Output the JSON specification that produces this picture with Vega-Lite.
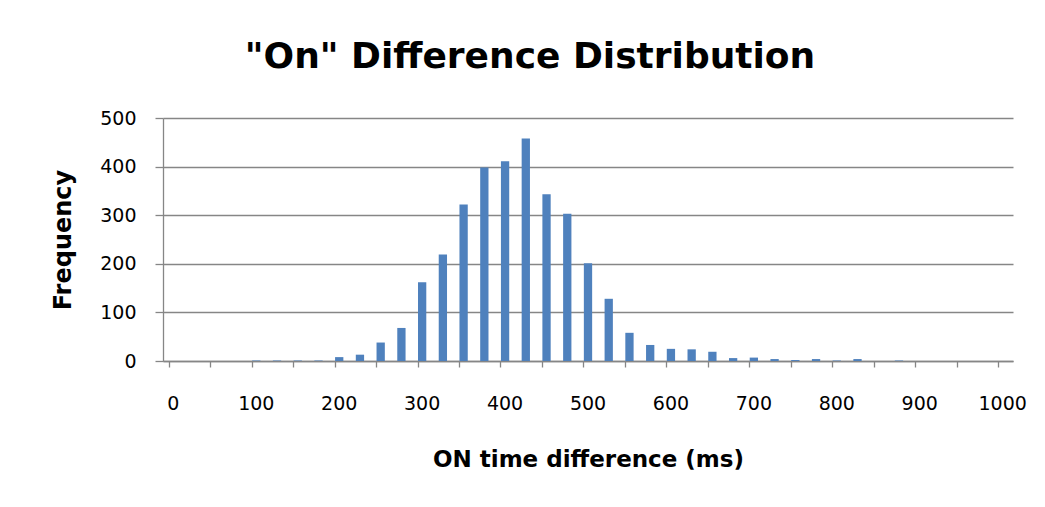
{
  "$schema": "https://vega.github.io/schema/vega-lite/v6.json",
  "width": 850,
  "height": 243,
  "autosize": {"type": "none"},
  "padding": {"left": 163, "top": 118, "right": 32, "bottom": 146},
  "background": "white",
  "title": {
    "text": "\"On\" Difference Distribution",
    "font": "DejaVu Sans",
    "fontSize": 36,
    "fontWeight": "bold",
    "color": "black",
    "anchor": "middle",
    "dx": -58,
    "offset": 33
  },
  "data": {
    "values": [
      {"bin": 0, "count": 0}, {"bin": 25, "count": 0}, {"bin": 50, "count": 0}, {"bin": 75, "count": 0},
      {"bin": 100, "count": 1}, {"bin": 125, "count": 1}, {"bin": 150, "count": 1}, {"bin": 175, "count": 1},
      {"bin": 200, "count": 8}, {"bin": 225, "count": 13}, {"bin": 250, "count": 38}, {"bin": 275, "count": 68},
      {"bin": 300, "count": 162}, {"bin": 325, "count": 219}, {"bin": 350, "count": 322}, {"bin": 375, "count": 398},
      {"bin": 400, "count": 411}, {"bin": 425, "count": 458}, {"bin": 450, "count": 343}, {"bin": 475, "count": 303},
      {"bin": 500, "count": 201}, {"bin": 525, "count": 128}, {"bin": 550, "count": 58}, {"bin": 575, "count": 33},
      {"bin": 600, "count": 25}, {"bin": 625, "count": 24}, {"bin": 650, "count": 19}, {"bin": 675, "count": 6},
      {"bin": 700, "count": 7}, {"bin": 725, "count": 4}, {"bin": 750, "count": 2}, {"bin": 775, "count": 4},
      {"bin": 800, "count": 1}, {"bin": 825, "count": 4}, {"bin": 850, "count": 0}, {"bin": 875, "count": 1},
      {"bin": 900, "count": 0}, {"bin": 925, "count": 0}, {"bin": 950, "count": 0}, {"bin": 975, "count": 0},
      {"bin": 1000, "count": 0}
    ]
  },
  "layer": [
    {
      "mark": {"type": "bar", "color": "#4F81BD"},
      "encoding": {
        "x": {
          "field": "bin",
          "type": "ordinal",
          "scale": {"paddingInner": 0.6, "paddingOuter": 0.3},
          "axis": {
            "orient": "bottom",
            "values": [0, 100, 200, 300, 400, 500, 600, 700, 800, 900, 1000],
            "labelAngle": 0,
            "ticks": false,
            "tickSize": 0,
            "domain": false,
            "labelPadding": 33,
            "labelFont": "DejaVu Sans",
            "labelFontSize": 19,
            "labelColor": "black",
            "title": "ON time difference (ms)",
            "titleFont": "DejaVu Sans",
            "titleFontSize": 23,
            "titleFontWeight": "bold",
            "titleColor": "black",
            "titlePadding": 35
          }
        },
        "y": {
          "field": "count",
          "type": "quantitative",
          "scale": {"domain": [0, 500], "nice": false},
          "axis": {
            "values": [0, 100, 200, 300, 400, 500],
            "grid": true,
            "gridColor": "#868686",
            "gridWidth": 1.3,
            "domainColor": "#868686",
            "domainWidth": 1.3,
            "tickColor": "#868686",
            "tickSize": 8,
            "tickWidth": 1.3,
            "labelPadding": 19,
            "labelFont": "DejaVu Sans",
            "labelFontSize": 19,
            "labelColor": "black",
            "title": "Frequency",
            "titleFont": "DejaVu Sans",
            "titleFontSize": 24,
            "titleFontWeight": "bold",
            "titleColor": "black",
            "titlePadding": 24
          }
        }
      }
    },
    {
      "mark": {"type": "bar", "opacity": 0},
      "encoding": {
        "x": {
          "field": "bin",
          "type": "ordinal",
          "axis": {
            "orient": "bottom",
            "values": [0, 50, 100, 150, 200, 250, 300, 350, 400, 450, 500, 550, 600, 650, 700, 750, 800, 850, 900, 950, 1000],
            "bandPosition": 0,
            "labels": false,
            "ticks": true,
            "tickSize": 6,
            "tickColor": "#868686",
            "tickWidth": 1.3,
            "domain": true,
            "domainColor": "#868686",
            "domainWidth": 1.3,
            "title": null
          }
        },
        "y": {"field": "count", "type": "quantitative"}
      }
    }
  ],
  "resolve": {"axis": {"x": "independent"}},
  "config": {"view": {"stroke": null}}
}
